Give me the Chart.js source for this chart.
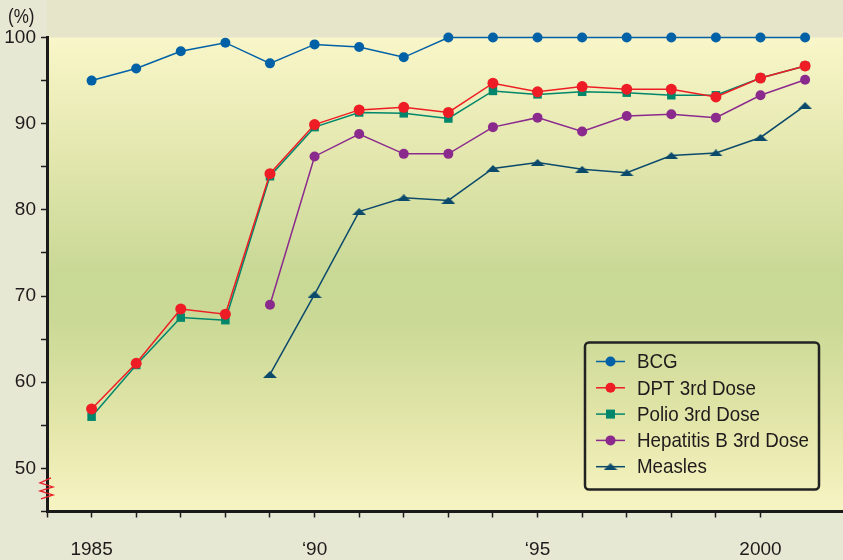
<!DOCTYPE html>
<html>
<head>
<meta charset="utf-8">
<script src="https://cdn.jsdelivr.net/npm/chart.js@4/dist/chart.umd.min.js"></script>
<style>
  html, body { margin: 0; padding: 0; background: #e7e8d3; }
  #wrap { width: 843px; height: 560px; }
</style>
</head>
<body>
<div id="wrap"><canvas id="chart" width="843" height="560"></canvas></div>
<script>
// immunization coverage (%), 1985-2001
var years = [1985, 1986, 1987, 1988, 1989, 1990, 1991, 1992, 1993, 1994, 1995, 1996, 1997, 1998, 1999, 2000, 2001];
var bcg = [95.0, 96.4, 98.4, 99.4, 97.0, 99.2, 98.9, 97.7, 100, 100, 100, 100, 100, 100, 100, 100, 100];
var dpt = [56.9, 62.2, 68.5, 67.9, 84.2, 89.9, 91.6, 91.9, 91.3, 94.7, 93.7, 94.3, 94.0, 94.0, 93.1, 95.3, 96.7];
var polio = [56.0, 62.0, 67.5, 67.2, 83.9, 89.6, 91.3, 91.2, 90.6, 93.8, 93.4, 93.7, 93.6, 93.3, 93.3, 95.3, 96.7];
var hepB = [null, null, null, null, 69.0, 86.2, 88.8, 86.5, 86.5, 89.6, 90.7, 89.1, 90.9, 91.1, 90.7, 93.3, 95.1];
var measles = [null, null, null, null, 60.9, 70.2, 79.8, 81.4, 81.1, 84.8, 85.5, 84.7, 84.3, 86.3, 86.6, 88.4, 92.1];
var seriesNames = ['BCG', 'DPT 3rd Dose', 'Polio 3rd Dose', 'Hepatitis B 3rd Dose', 'Measles'];
var xTickYears = [1985, 1990, 1995, 2000];
var xTickLabels = ['1985', '\u201890', '\u201895', '2000'];
var yTickValues = [50, 60, 70, 80, 90, 100];

var FONT = "'Liberation Sans', Arial, sans-serif";
var TEXT = '#1f1b1c';

function toPoints(arr) {
    return years.map(function (yr, i) { return { x: yr, y: arr[i] }; });
}

// flat triangle marker for measles
function makeTriangle(color, w, h) {
    var c = document.createElement('canvas');
    c.width = w;
    c.height = h;
    var g = c.getContext('2d');
    g.fillStyle = color;
    g.beginPath();
    g.moveTo(w / 2, 0);
    g.lineTo(w, h);
    g.lineTo(0, h);
    g.closePath();
    g.fill();
    return c;
}
var tri = makeTriangle('#0c4a6c', 14, 7);

function series(label, arr, color, style, radius) {
    return {
        label: label,
        data: toPoints(arr),
        borderColor: color,
        backgroundColor: color,
        borderWidth: 1.5,
        pointStyle: style,
        pointRadius: radius,
        pointBorderWidth: 0,
        pointBackgroundColor: color,
        tension: 0,
        clip: false
    };
}

var datasets = [
    series(seriesNames[0], bcg, '#0061a6', 'circle', 5),
    series(seriesNames[1], dpt, '#ee1d25', 'circle', 5.5),
    series(seriesNames[2], polio, '#00866b', 'rect', 6),
    series(seriesNames[3], hepB, '#8b2a8d', 'circle', 5),
    series(seriesNames[4], measles, '#0c4a6c', tri, 7)
];

// draws text squeezed horizontally, like the condensed face of the original
function narrowText(ctx, str, x, y, sx) {
    ctx.save();
    ctx.translate(x, y);
    ctx.scale(sx, 1);
    ctx.fillText(str, 0, 0);
    ctx.restore();
}

var backdrop = {
    id: 'backdrop',
    beforeDraw: function (chart) {
        var ctx = chart.ctx, a = chart.chartArea;
        ctx.save();
        ctx.fillStyle = '#e7e8d3';
        ctx.fillRect(0, 0, chart.width, chart.height);
        ctx.fillStyle = '#e6e5c9';
        ctx.fillRect(a.left, 0, chart.width - a.left, a.top);
        var g = ctx.createLinearGradient(0, a.top, 0, a.bottom);
        g.addColorStop(0, '#f9f6c9');
        g.addColorStop(0.25, '#e3e7ae');
        g.addColorStop(0.5, '#c8d895');
        g.addColorStop(0.6, '#cad996');
        g.addColorStop(0.82, '#e4e6aa');
        g.addColorStop(1, '#f7f4c3');
        ctx.fillStyle = g;
        ctx.fillRect(a.left, a.top, a.right - a.left, a.bottom - a.top);
        ctx.restore();
    },
    afterDraw: function (chart) {
        var ctx = chart.ctx, a = chart.chartArea;
        ctx.save();
        // unit label
        ctx.fillStyle = TEXT;
        ctx.font = '20px ' + FONT;
        ctx.textBaseline = 'middle';
        ctx.textAlign = 'left';
        narrowText(ctx, '(%)', 8, 17, 0.85);
        // axis break
        var yb = chart.scales.y.getPixelForValue(47.5);
        var x0 = a.left;
        ctx.strokeStyle = '#e8202a';
        ctx.lineWidth = 1.3;
        ctx.beginPath();
        ctx.moveTo(x0 + 4, yb - 12);
        ctx.lineTo(x0 - 7, yb - 7);
        ctx.lineTo(x0 + 6, yb - 3);
        ctx.lineTo(x0 - 7, yb + 1);
        ctx.lineTo(x0 + 6, yb + 5);
        ctx.lineTo(x0 - 6, yb + 9);
        ctx.stroke();
        ctx.restore();
    }
};

var legendBox = {
    id: 'legendBox',
    afterDraw: function (chart) {
        var ctx = chart.ctx, a = chart.chartArea;
        var w = 234, h = 147;
        var bx = a.right - 24 - w, by = a.bottom - 22 - h;
        ctx.save();
        ctx.lineWidth = 2.5;
        ctx.strokeStyle = '#222';
        ctx.beginPath();
        ctx.roundRect(bx, by, w, h, 4);
        ctx.stroke();
        ctx.font = '21px ' + FONT;
        ctx.textBaseline = 'middle';
        ctx.textAlign = 'left';
        var widest = 0;
        chart.data.datasets.forEach(function (ds) {
            widest = Math.max(widest, ctx.measureText(ds.label).width);
        });
        var sx = Math.min(1, 172 / widest);
        chart.data.datasets.forEach(function (ds, i) {
            var ry = by + 19 + i * 26.3;
            var mx = bx + 25.5;
            ctx.strokeStyle = ds.borderColor;
            ctx.lineWidth = 1.5;
            ctx.beginPath();
            ctx.moveTo(bx + 11, ry);
            ctx.lineTo(bx + 40, ry);
            ctx.stroke();
            ctx.fillStyle = ds.borderColor;
            if (ds.pointStyle === 'circle') {
                ctx.beginPath();
                ctx.arc(mx, ry, 5, 0, Math.PI * 2);
                ctx.fill();
            } else if (ds.pointStyle === 'rect') {
                ctx.fillRect(mx - 4.5, ry - 4.5, 9, 9);
            } else {
                ctx.drawImage(ds.pointStyle, mx - ds.pointStyle.width / 2, ry - ds.pointStyle.height / 2);
            }
            ctx.fillStyle = TEXT;
            narrowText(ctx, ds.label, bx + 52, ry + 1, sx);
        });
        ctx.restore();
    }
};

new Chart(document.getElementById('chart').getContext('2d'), {
    type: 'line',
    data: { datasets: datasets },
    plugins: [backdrop, legendBox],
    options: {
        responsive: false,
        animation: false,
        devicePixelRatio: 1,
        layout: { autoPadding: false, padding: { top: 37.5, left: 0, right: 0, bottom: 0 } },
        plugins: {
            legend: { display: false },
            tooltip: { enabled: false }
        },
        scales: {
            x: {
                type: 'linear',
                min: 1984,
                max: 2001.85,
                afterFit: function (s) { s.height = 48.5; },
                afterBuildTicks: function (s) {
                    s.ticks = s.ticks.filter(function (t) { return Number.isInteger(t.value); });
                },
                ticks: {
                    stepSize: 1,
                    autoSkip: false,
                    maxRotation: 0,
                    padding: 21,
                    color: TEXT,
                    font: { family: FONT, size: 19 },
                    callback: function (v) {
                        var i = xTickYears.indexOf(v);
                        return i >= 0 ? xTickLabels[i] : '';
                    }
                },
                grid: { drawOnChartArea: false, tickLength: 6, tickColor: TEXT, tickWidth: 1.5 },
                border: { display: true, color: '#1a1a1a', width: 3 }
            },
            y: {
                min: 45,
                max: 100,
                afterFit: function (s) { s.width = 47; },
                ticks: {
                    stepSize: 5,
                    autoSkip: false,
                    padding: 5,
                    color: TEXT,
                    font: { family: FONT, size: 19 },
                    callback: function (v) {
                        return yTickValues.indexOf(v) >= 0 ? String(v) : '';
                    }
                },
                grid: { drawOnChartArea: false, tickLength: 6, tickColor: TEXT, tickWidth: 1.5 },
                border: { display: true, color: '#1a1a1a', width: 3 }
            }
        }
    }
});
</script>
</body>
</html>
